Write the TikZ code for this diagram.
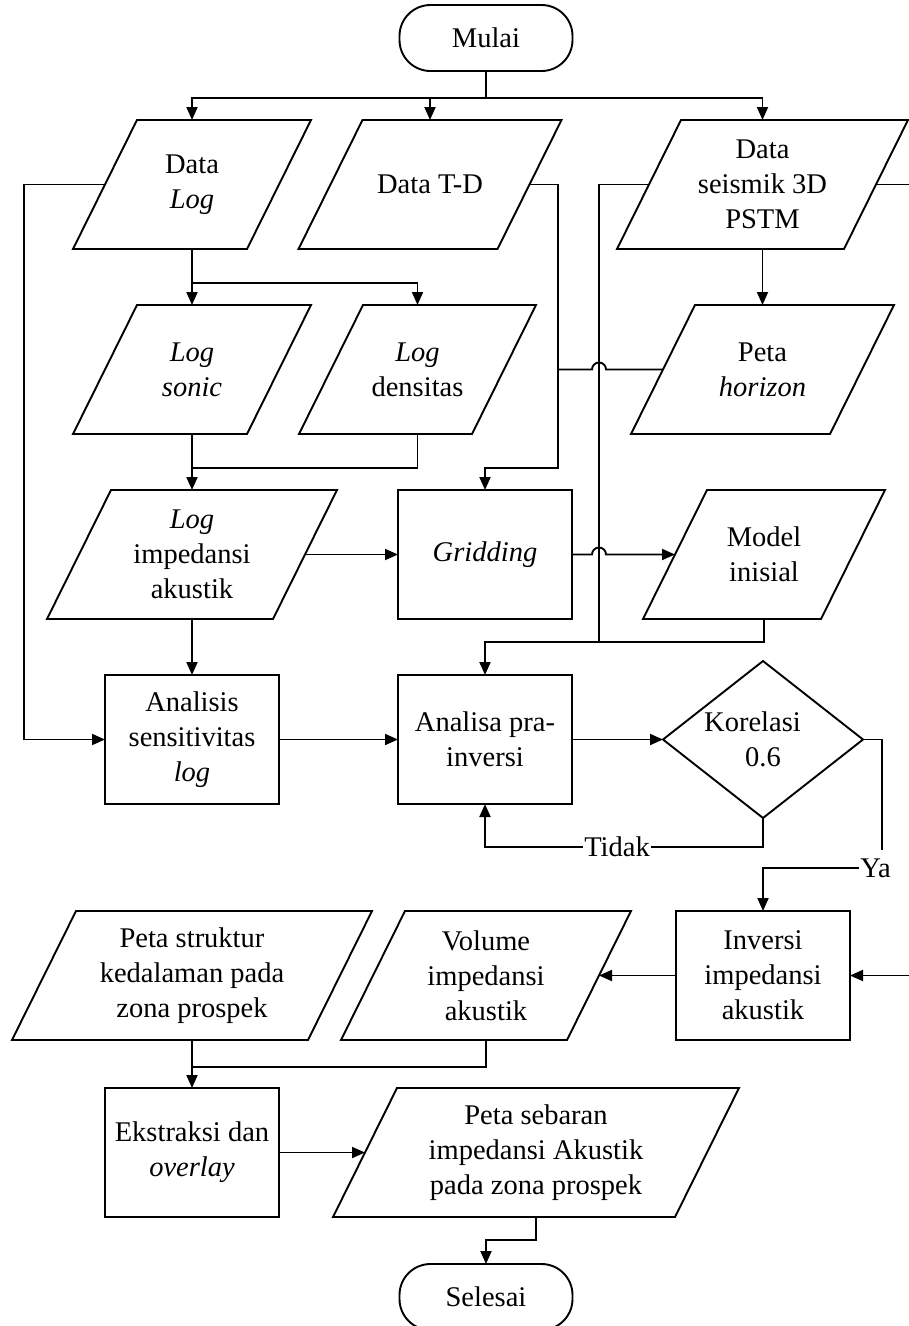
\documentclass[tikz,border=0pt]{standalone}
\usepackage{fontspec}
\setmainfont{Liberation Serif}
\usetikzlibrary{shapes.geometric,arrows.meta,calc}

% outline of a data (parallelogram) block around a named node
\newcommand\ioshape[1]{%
  \draw[shapeline] ([xshift=-32pt]#1.south west) -- ([xshift=-32pt]#1.south east)
    -- ([xshift=32pt]#1.north east) -- ([xshift=32pt]#1.north west) -- cycle;}

\begin{document}
\begin{tikzpicture}[x=1pt,y=-1pt,
  every node/.style={font=\fontsize{28.5}{35}\selectfont, align=center, inner sep=0pt, outer sep=0pt},
  line/.style={line width=1.9pt},
  shapeline/.style={line width=1.9pt, line join=miter},
  arr/.style={line width=1.9pt, -{Triangle[length=13pt,width=11pt]}},
  procbox/.style={draw, shapeline, minimum width=174pt, minimum height=129pt},
  iobox/.style={minimum width=#1, minimum height=129pt},
  termbox/.style={draw, shapeline, rounded corners=31pt, minimum width=173pt, minimum height=66pt},
  decbox/.style={draw, shapeline, diamond, minimum width=200pt, minimum height=157pt},
  lbl/.style={fill=white, inner xsep=1pt, inner ysep=2pt}
]
\useasboundingbox (0,0) rectangle (909,1326);

% ---- blocks ----
\node[termbox] (mulai) at (486,38) {Mulai};
\node[iobox=174pt] (dlog) at (192,184.5) {Data\\\textit{Log}};
\node[iobox=199pt] (dtd) at (430,184.5) {Data T-D};
\node[iobox=227pt] (seis) at (762.5,184.5) {Data\\seismik 3D\\PSTM};
\node[iobox=174pt] (sonic) at (192,369.5) {\textit{Log}\\\textit{sonic}};
\node[iobox=173pt] (dens) at (417.5,369.5) {\textit{Log}\\densitas};
\node[iobox=199pt] (hor) at (762.5,369.5) {Peta\\\textit{horizon}};
\node[iobox=226pt] (limp) at (192,554.5) {\textit{Log}\\impedansi\\akustik};
\node[procbox] (grid) at (485,554.5) {\textit{Gridding}};
\node[iobox=178pt] (model) at (764,554.5) {Model\\inisial};
\node[procbox] (anls) at (192,739.5) {Analisis\\sensitivitas\\\textit{log}};
\node[procbox] (pra) at (485,739.5) {Analisa pra-\\inversi};
\node[decbox] (kor) at (763,739.5) {};
\node (kortxt) at (763,739.5) {Korelasi\hspace*{21pt}\\0.6};
\node[procbox] (inv) at (763,975.5) {Inversi\\impedansi\\akustik};
\node[iobox=226pt] (vol) at (486,975.5) {Volume\\impedansi\\akustik};
\node[iobox=296pt] (struk) at (192,975.5) {Peta struktur\\kedalaman pada\\zona prospek};
\node[procbox] (ekst) at (192,1152.5) {Ekstraksi dan\\\textit{overlay}};
\node[iobox=342pt] (seb) at (536,1152.5) {Peta sebaran\\impedansi Akustik\\pada zona prospek};
\node[termbox] (sel) at (486,1297) {Selesai};

\ioshape{dlog}\ioshape{dtd}\ioshape{seis}
\ioshape{sonic}\ioshape{dens}\ioshape{hor}
\ioshape{limp}\ioshape{model}
\ioshape{vol}\ioshape{struk}\ioshape{seb}

% ---- routing points ----
\coordinate (top) at (486,98);
\coordinate (railL) at (24,0);
\coordinate (brA) at (192,283);
\coordinate (brB) at (192,468);
\coordinate (railTD) at (558,468);
\coordinate (hopx) at (599,0);
\coordinate (railS) at (599,642);
\coordinate (edgeR) at (909,0);
\coordinate (edgeR2) at (909,975.5);
\coordinate (noY) at (0,847);
\coordinate (yaC) at (882,868);
\coordinate (brC) at (192,1067);
\coordinate (brD) at (486,1240);

% ---- connectors ----
\draw[line] (mulai.south) -- (top);
\draw[arr] (top) -| (dlog.north);
\draw[arr] (top) -| (dtd.north);
\draw[arr] (top) -| (seis.north);

\draw[arr] (dlog.west) -- (dlog.west -| railL) |- (anls.west);

\draw[arr] (dlog.south) -- (sonic.north);
\draw[arr] (brA) -| (dens.north);

\draw[arr] (dtd.east) -| (railTD) -| (grid.north);

\draw[arr] (seis.west) -| (railS) -| (pra.north);
\draw[line] (model.south) |- (railS);
\draw[line] (seis.east) -- (seis.east -| edgeR);
\draw[arr] (seis.south) -- (hor.north);

\draw[line] (hor.west) -- ($(hopx |- hor.west)+(7pt,0)$)
  arc[start angle=0, end angle=180, radius=7pt] -- (railTD |- hor.west);

\draw[arr] (sonic.south) -- (limp.north);
\draw[line] (dens.south) |- (brB);
\draw[arr] (limp.east) -- (grid.west);
\draw[arr] (grid.east) -- ($(hopx |- grid.east)+(-7pt,0)$)
  arc[start angle=180, end angle=0, radius=7pt] -- (model.west);
\draw[arr] (limp.south) -- (anls.north);

\draw[arr] (anls.east) -- (pra.west);
\draw[arr] (pra.east) -- (kor.west);
\draw[arr] (kor.south) -- (kor.south |- noY) -- node[lbl, pos=0.525] (tidak) {Tidak} (pra.south |- noY) -- (pra.south);
\draw[arr] (kor.east) -| (yaC) -| (inv.north);
\node[fill=white, inner xsep=1.5pt, inner ysep=9pt] (ya) at (875.5,868) {Ya};

\draw[arr] (edgeR2) -- (inv.east);
\draw[arr] (inv.west) -- (vol.east);
\draw[arr] (struk.south) -- (ekst.north);
\draw[line] (vol.south) |- (brC);
\draw[arr] (ekst.east) -- (seb.west);
\draw[arr] (seb.south) |- (brD) -- (sel.north);
\end{tikzpicture}
\end{document}
